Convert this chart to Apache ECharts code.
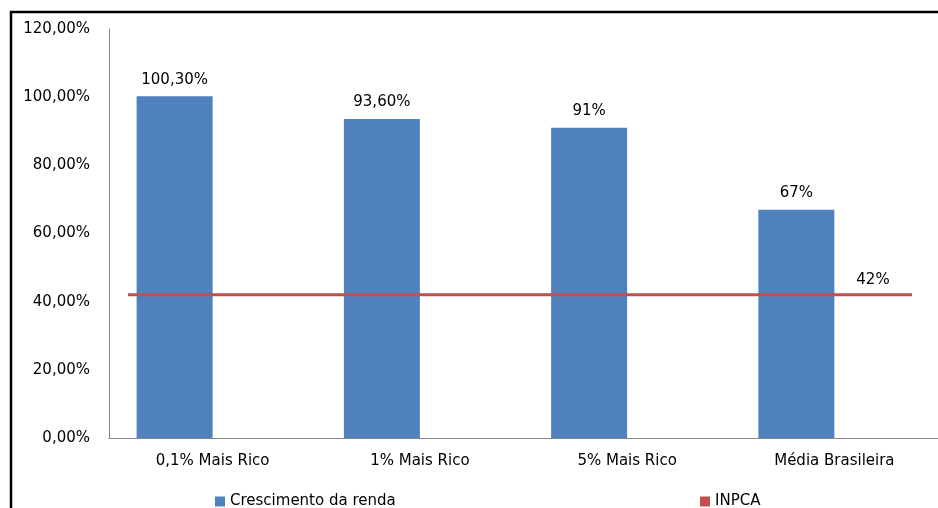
<!DOCTYPE html>
<html>
<head>
<meta charset="utf-8">
<script src="https://cdn.jsdelivr.net/npm/echarts@6/dist/echarts.min.js"></script>
<style>
html,body{margin:0;padding:0;background:#fff;}
#c{width:938px;height:508px;}
</style>
</head>
<body>
<div id="c"></div>
<script>
const categories = ['0,1% Mais Rico', '1% Mais Rico', '5% Mais Rico', 'Média Brasileira'];
const rendaValues = [100.3, 93.6, 91, 67];
const rendaLabels = ['100,30%', '93,60%', '91%', '67%'];
const inpcaValues = [42, 42, 42, 42];
const inpcaLabel = '42%';
const yTicks = [0, 20, 40, 60, 80, 100, 120];

const FONT = 'DejaVu Sans';
const FS = 15;
const chart = echarts.init(document.getElementById('c'));
const fmtY = v => v.toFixed(2).replace('.', ',') + '%';

chart.setOption({
  animation: false,
  backgroundColor: '#fff',
  textStyle: { fontFamily: FONT },
  graphic: [{
    type: 'rect', z: 100, silent: true,
    shape: { x: 11, y: 12, width: 960, height: 520 },
    style: { fill: 'none', stroke: '#000', lineWidth: 2.5 }
  }],
  grid: [
    { left: 109, right: -1, top: 29, bottom: 70 },
    { left: 128, right: 26, top: 29, bottom: 70 }
  ],
  legend: [
    { data: ['Crescimento da renda'], left: 210, top: 489, icon: 'rect', itemWidth: 10, itemHeight: 10, itemGap: 6,
      textStyle: { fontFamily: FONT, fontSize: FS, color: '#000' } },
    { data: ['INPCA'], left: 695, top: 489, icon: 'rect', itemWidth: 10, itemHeight: 10,
      textStyle: { fontFamily: FONT, fontSize: FS, color: '#000' } }
  ],
  xAxis: [
    { type: 'category', gridIndex: 0, data: categories,
      axisLine: { lineStyle: { color: '#868686', width: 1 } },
      axisTick: { show: false },
      axisLabel: { color: '#000', fontSize: FS, fontFamily: FONT, margin: 16 } },
    { type: 'category', gridIndex: 1, data: categories, boundaryGap: false, show: false }
  ],
  yAxis: [
    { type: 'value', gridIndex: 0, min: 0, max: 120, interval: 20,
      axisLine: { show: true, lineStyle: { color: '#868686', width: 1 } },
      axisTick: { show: false },
      splitLine: { show: false },
      axisLabel: { color: '#000', fontSize: FS, fontFamily: FONT, margin: 19, formatter: fmtY } },
    { type: 'value', gridIndex: 1, min: 0, max: 120, interval: 20, show: false, splitLine: { show: false } }
  ],
  series: [
    { name: 'Crescimento da renda', type: 'bar', xAxisIndex: 0, yAxisIndex: 0,
      data: rendaValues, barWidth: 76, barGap: '0%',
      itemStyle: { color: '#4F81BD' },
      label: { show: true, position: 'top', distance: 9, color: '#000', fontSize: FS, fontFamily: FONT,
        formatter: p => rendaLabels[p.dataIndex] } },
    { name: 'placeholder', type: 'bar', xAxisIndex: 0, yAxisIndex: 0, silent: true,
      data: categories.map(() => null), barWidth: 76 },
    { name: 'INPCA', type: 'line', xAxisIndex: 1, yAxisIndex: 1, z: 5,
      data: inpcaValues,
      symbol: 'circle', symbolSize: 0.01, showSymbol: true,
      label: { show: true, position: 'top', offset: [-39, -2], color: '#000', fontSize: FS, fontFamily: FONT,
        formatter: p => p.dataIndex === inpcaValues.length - 1 ? inpcaLabel : '' },
      lineStyle: { color: '#C0504D', width: 3 },
      itemStyle: { color: '#C0504D' } }
  ]
});
</script>
</body>
</html>
